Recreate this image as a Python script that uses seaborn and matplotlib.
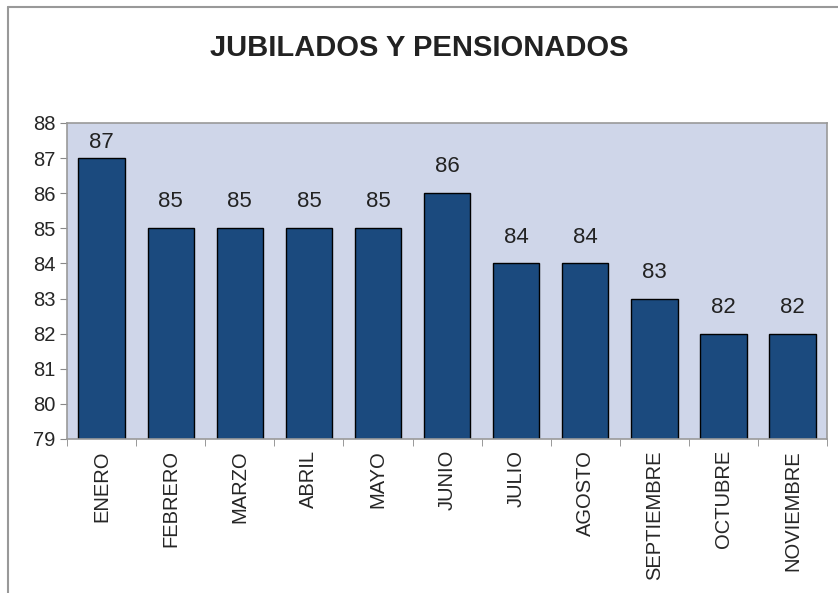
import matplotlib.pyplot as plt
import pandas as pd
import seaborn as sns
from matplotlib.lines import Line2D

meses = ['ENERO', 'FEBRERO', 'MARZO', 'ABRIL', 'MAYO', 'JUNIO', 'JULIO',
         'AGOSTO', 'SEPTIEMBRE', 'OCTUBRE', 'NOVIEMBRE']
valores = [87, 85, 85, 85, 85, 86, 84, 84, 83, 82, 82]

df = pd.DataFrame({'Mes': meses, 'Valor': valores})

sns.set_style("white")
plt.rcParams['font.family'] = ['Liberation Sans', 'DejaVu Sans']

fig = plt.figure(figsize=(8.38, 5.93), dpi=100)
ax = fig.add_axes([0.080, 0.2597, 0.907, 0.533])
ax.set_facecolor('#cfd6e9')

sns.barplot(data=df, x='Mes', y='Valor', color='#1b4a7e', edgecolor='black',
            linewidth=1, width=0.67, saturation=1, ax=ax)

ymin, ymax = 79, 88
ax.set_ylim(ymin, ymax)
ax.set_xlim(-0.5, len(meses) - 0.5)
ax.set_yticks(range(ymin, ymax + 1))
ax.set_xlabel('')
ax.set_ylabel('')

# labels sit above the bars; near the top edge they get squeezed down
for i, v in enumerate(valores):
    off = 0.45 if v + 1 < ymax else 0.14
    ax.text(i, v + off, str(v), ha='center', va='bottom', fontsize=16, color='#222222')

# ticks between categories, like the original spreadsheet chart
ax.set_xticks([i - 0.5 for i in range(len(meses) + 1)], minor=True)
ax.tick_params(axis='x', which='major', length=0, pad=8, labelsize=14.5, rotation=90)
ax.tick_params(axis='x', which='minor', length=5, color='#888888', direction='out', bottom=True)
ax.tick_params(axis='y', length=5, color='#888888', direction='out', left=True, labelsize=14.5)

for s in ax.spines.values():
    s.set_color('#999999')
    s.set_linewidth(1.2)

fig.suptitle('JUBILADOS Y PENSIONADOS', x=0.5, y=0.942, fontsize=21, fontweight='bold', color='#222222')

fig.add_artist(Line2D([0.009, 0.009], [0, 0.988], transform=fig.transFigure, color='#999999', lw=1.5))
fig.add_artist(Line2D([0.009, 1], [0.988, 0.988], transform=fig.transFigure, color='#999999', lw=1.5))

fig.savefig('out.png', dpi=100)
